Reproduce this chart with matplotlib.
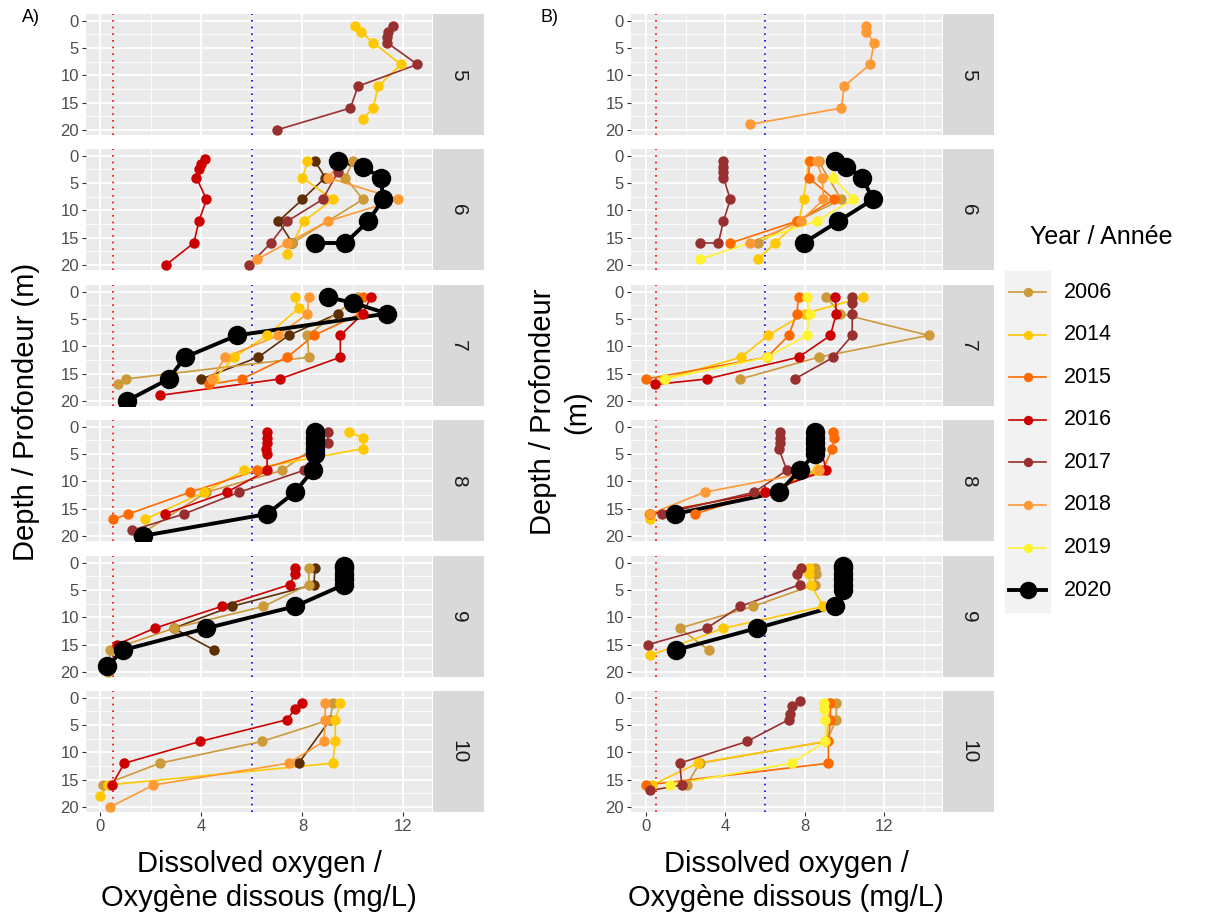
import matplotlib
matplotlib.use("Agg")
import matplotlib.pyplot as plt
from matplotlib.lines import Line2D
from matplotlib.patches import Rectangle

plt.rcParams['font.family'] = ['Liberation Sans', 'DejaVu Sans']

# dissolved oxygen profiles: {year: (depths in m, DO in mg/L)}
# panel A
A_MAY = {
    "2014": ([1, 2, 4, 8, 12, 16, 18], [10.1, 10.3, 10.8, 11.9, 11.0, 10.8, 10.4]),
    "2017": ([1, 2, 3, 4, 8, 12, 16, 20], [11.6, 11.4, 11.35, 11.35, 12.55, 10.2, 9.9, 7.0]),
}
A_JUN = {
    "2006": ([1, 4, 8, 16], [10.0, 9.7, 10.4, 7.6]),
    "2013": ([1, 4, 8, 12, 16], [8.5, 8.9, 8.0, 7.05, 7.6]),
    "2014": ([1, 4, 8, 12, 18], [8.2, 8.0, 9.2, 8.05, 7.4]),
    "2016": ([0.5, 1.5, 2.5, 4, 8, 12, 16, 20], [4.15, 4.0, 3.9, 3.8, 4.2, 3.9, 3.7, 2.6]),
    "2017": ([1, 3, 8, 12, 16, 20], [9.5, 9.4, 8.8, 7.4, 6.75, 5.9]),
    "2018": ([1, 4, 8, 12, 16, 19], [9.6, 9.0, 11.8, 9.0, 7.4, 6.2]),
    "2020": ([1, 2, 4, 8, 12, 16, 16], [9.4, 10.4, 11.1, 11.2, 10.6, 9.7, 8.5]),
}
A_JUL = {
    "2006": ([1, 8, 12, 16, 17], [10.2, 8.2, 8.25, 1.0, 0.7]),
    "2013": ([4, 8, 12, 16], [9.4, 7.45, 6.25, 4.0]),
    "2014": ([1, 3, 8, 12, 16], [7.7, 7.85, 6.6, 5.3, 4.5]),
    "2015": ([1, 4, 8, 12, 16, 17], [10.4, 10.3, 8.45, 7.4, 5.6, 4.3]),
    "2016": ([1, 4, 8, 12, 16, 19], [10.7, 10.4, 9.5, 9.5, 7.1, 2.35]),
    "2018": ([1, 4, 8, 12, 16], [8.25, 8.2, 7.05, 4.95, 4.4]),
    "2020": ([1, 2, 4, 8, 12, 16, 20], [9.0, 10.0, 11.35, 5.4, 3.35, 2.7, 1.05]),
}
A_AUG = {
    "2006": ([4, 8, 12, 20], [8.4, 7.2, 4.2, 1.5]),
    "2014": ([1, 2, 4, 8, 12, 17], [9.85, 10.4, 10.4, 5.7, 4.1, 1.75]),
    "2015": ([5, 8, 12, 16, 17], [8.3, 6.2, 3.55, 1.1, 0.5]),
    "2016": ([1, 2, 3, 4, 5, 8, 12, 16], [6.6, 6.6, 6.6, 6.55, 6.6, 6.6, 5.0, 2.55]),
    "2017": ([1, 3, 8, 12, 16, 19], [9.0, 9.0, 8.05, 5.5, 3.3, 1.25]),
    "2020": ([1, 2, 3, 4, 5, 8, 12, 16, 20], [8.5, 8.5, 8.5, 8.5, 8.5, 8.4, 7.7, 6.6, 1.7]),
}
A_SEP = {
    "2006": ([1, 4, 8, 12, 16, 20], [8.25, 8.25, 6.45, 2.9, 0.4, 0.3]),
    "2013": ([1, 4, 8, 12, 16], [8.5, 8.45, 5.2, 2.9, 4.5]),
    "2016": ([1, 2, 4, 8, 12, 15], [7.7, 7.7, 7.5, 4.8, 2.15, 0.65]),
    "2020": ([0.5, 1, 2, 3, 4, 8, 12, 16, 19], [9.65, 9.65, 9.65, 9.65, 9.65, 7.7, 4.2, 0.9, 0.25]),
}
A_OCT = {
    "2006": ([1, 4, 8, 12, 16], [9.2, 9.1, 6.4, 2.35, 0.1]),
    "2013": ([4, 12], [9.1, 7.85]),
    "2014": ([1, 4, 8, 12, 16, 18], [9.5, 9.3, 9.3, 9.2, 0.3, 0.0]),
    "2016": ([1, 2, 4, 8, 12, 16], [8.0, 7.7, 7.4, 3.95, 0.95, 0.45]),
    "2018": ([1, 4, 8, 12, 16, 20], [8.9, 8.9, 8.85, 7.45, 2.1, 0.4]),
}

# panel B
B_MAY = {
    "2018": ([1, 2, 4, 8, 12, 16, 19], [11.1, 11.1, 11.5, 11.3, 10.0, 9.85, 5.25]),
}
B_JUN = {
    "2006": ([1, 8, 12, 16], [8.7, 9.85, 7.6, 5.65]),
    "2014": ([1, 8, 12, 16, 19], [8.2, 7.95, 7.7, 6.5, 5.65]),
    "2015": ([1, 4, 8, 12, 16], [8.25, 8.2, 9.5, 7.6, 4.25]),
    "2017": ([1, 2, 3, 4, 8, 12, 16, 16], [3.9, 3.9, 3.9, 3.9, 4.25, 3.9, 3.65, 2.7]),
    "2018": ([1, 4, 8, 12, 16], [8.6, 8.9, 8.95, 7.8, 5.25]),
    "2019": ([1, 4, 8, 12, 19], [9.3, 9.45, 10.45, 8.6, 2.7]),
    "2020": ([1, 2, 4, 8, 12, 16], [9.55, 10.1, 10.9, 11.45, 9.7, 7.95]),
}
B_JUL = {
    "2006": ([1, 4, 8, 12, 16], [9.1, 9.8, 14.25, 8.7, 4.75]),
    "2014": ([1, 4, 8, 12, 16], [10.95, 8.0, 6.15, 4.8, 0.9]),
    "2015": ([1, 4, 8, 12, 16], [7.7, 7.6, 7.2, 6.1, 0.0]),
    "2016": ([1, 4, 8, 12, 16, 17], [9.55, 9.6, 9.3, 7.7, 3.05, 0.45]),
    "2017": ([1, 2, 4, 8, 12, 16], [10.4, 10.4, 10.4, 10.4, 9.45, 7.5]),
    "2019": ([1, 4, 8, 12, 16], [8.1, 8.25, 8.1, 6.1, 0.95]),
}
B_AUG = {
    "2014": ([1, 4, 8, 12, 16, 17], [8.4, 8.5, 8.6, 6.0, 0.15, 0.2]),
    "2015": ([1, 2, 4, 8, 12, 16], [9.45, 9.5, 9.4, 8.9, 6.0, 2.45]),
    "2016": ([1, 4, 8, 12, 16], [8.4, 8.8, 9.1, 6.0, 0.2]),
    "2017": ([1, 2, 3, 4, 8, 12, 16], [6.75, 6.75, 6.75, 6.7, 7.1, 5.45, 0.8]),
    "2018": ([1, 8, 12, 16], [8.5, 8.7, 2.95, 0.2]),
    "2020": ([1, 2, 3, 4, 5, 8, 12, 16], [8.5, 8.5, 8.5, 8.5, 8.5, 7.75, 6.7, 1.45]),
}
B_SEP = {
    "2006": ([1, 2, 4, 8, 12, 16], [8.5, 8.55, 8.5, 5.4, 1.7, 3.15]),
    "2014": ([1, 2, 4, 8, 12, 17], [8.2, 8.2, 8.3, 8.95, 3.9, 0.2]),
    "2017": ([1, 2, 4, 8, 12, 15], [7.8, 7.6, 7.75, 4.75, 3.05, 0.1]),
    "2020": ([0.5, 1, 2, 3, 4, 5, 8, 12, 16], [9.95, 9.95, 9.95, 9.95, 9.95, 9.95, 9.53, 5.58, 1.5]),
}
B_OCT = {
    "2006": ([1, 4, 8, 12, 16], [9.6, 9.6, 9.1, 2.7, 2.05]),
    "2014": ([1, 4, 8, 12, 16], [9.3, 9.2, 9.1, 2.6, 0.3]),
    "2015": ([1, 4, 8, 12, 16], [9.3, 9.3, 9.2, 9.2, 0.0]),
    "2017": ([0.5, 1.5, 3, 4, 8, 12, 16, 17], [7.75, 7.35, 7.25, 7.2, 5.1, 1.7, 1.8, 0.2]),
    "2019": ([1, 2, 4, 8, 12, 16], [9.0, 9.0, 9.05, 9.05, 7.35, 1.2]),
}

MONTHS = ["5", "6", "7", "8", "9", "10"]
PANEL_A = [A_MAY, A_JUN, A_JUL, A_AUG, A_SEP, A_OCT]
PANEL_B = [B_MAY, B_JUN, B_JUL, B_AUG, B_SEP, B_OCT]

YEAR_ORDER = ["2013", "2006", "2014", "2015", "2016", "2017", "2018", "2019", "2020"]
LEGEND_YEARS = ["2006", "2014", "2015", "2016", "2017", "2018", "2019", "2020"]
COLORS = {
    "2013": "#5E2F05",
    "2006": "#CD9A3A",
    "2014": "#FFC800",
    "2015": "#FF6A00",
    "2016": "#CC0000",
    "2017": "#983030",
    "2018": "#FF9933",
    "2019": "#FFF22E",
    "2020": "#000000",
}

HYPOXIA = 0.5
LOW_DO = 6.0

W, H = 1206, 924
fig = plt.figure(figsize=(W / 100, H / 100), dpi=100)


def px_axes(x0, y0, x1, y1):
    return fig.add_axes([x0 / W, 1 - y1 / H, (x1 - x0) / W, (y1 - y0) / H])


def style(year):
    if year == "2020":
        return dict(lw=2.8, ms=14)
    return dict(lw=1.2, ms=7.5)


TOPS = [14, 149, 285, 420, 556, 691]
FACET_H = 121


def draw_panel(data_list, x0, x1, xlim, xminor):
    for i, (month, data) in enumerate(zip(MONTHS, data_list)):
        top = TOPS[i]
        ax = px_axes(x0, top, x1, top + FACET_H)
        ax.set_facecolor("#EBEBEB")
        for s in ax.spines.values():
            s.set_visible(False)
        ax.set_xlim(*xlim)
        ax.set_ylim(20.95, -1.25)
        ax.set_xticks([0, 4, 8, 12])
        ax.set_xticks(xminor, minor=True)
        ax.set_yticks([0, 5, 10, 15, 20])
        ax.set_yticks([2.5, 7.5, 12.5, 17.5], minor=True)
        ax.grid(which="major", color="white", lw=1.3)
        ax.grid(which="minor", color="white", lw=0.6)
        ax.set_axisbelow(True)
        ax.tick_params(which="minor", length=0)
        ax.tick_params(which="major", length=3, width=0.8, color="#333333",
                       labelcolor="#4D4D4D", labelsize=12, pad=2)
        if i < len(MONTHS) - 1:
            ax.tick_params(axis="x", which="major", length=0, labelbottom=False)

        ax.axvline(HYPOXIA, color="red", ls=(0, (1, 3)), lw=1.2, zorder=1.5)
        ax.axvline(LOW_DO, color="blue", ls=(0, (1, 3)), lw=1.2, zorder=1.5)

        years = [y for y in YEAR_ORDER if y in data]
        for y in years:
            d, v = data[y]
            ax.plot(v, d, "-", color=COLORS[y], lw=style(y)["lw"], zorder=2,
                    solid_capstyle="round")
        for y in years:
            d, v = data[y]
            ax.plot(v, d, "o", color=COLORS[y], ms=style(y)["ms"], mew=0, zorder=3)

        strip = px_axes(x1 + 1, top, x1 + 52, top + FACET_H)
        strip.set_facecolor("#D9D9D9")
        strip.set_xticks([])
        strip.set_yticks([])
        for s in strip.spines.values():
            s.set_visible(False)
        strip.text(0.5, 0.5, month, rotation=270, ha="center", va="center",
                   fontsize=15, color="#1A1A1A", transform=strip.transAxes)


draw_panel(PANEL_A, 86, 432, (-0.57, 13.13), [2, 6, 10])
draw_panel(PANEL_B, 631, 942, (-0.76, 14.93), [2, 6, 10, 14])


def ftext(x, y, s, **kw):
    fig.text(x / W, 1 - y / H, s, **kw)


ftext(22, 18, "A)", fontsize=13, ha="left", va="center")
ftext(540, 18, "B)", fontsize=13, ha="left", va="center")

title_kw = dict(fontsize=21, color="black", ha="center", va="center", linespacing=1.3)
ftext(26, 412, "Depth / Profondeur (m)", rotation=90, **title_kw)
ftext(560, 412, "Depth / Profondeur\n(m)", rotation=90, **title_kw)
ftext(259, 881, "Dissolved oxygen /\nOxygène dissous (mg/L)", **title_kw)
ftext(786, 881, "Dissolved oxygen /\nOxygène dissous (mg/L)", **title_kw)

# legend
ftext(1030, 237, "Year / Année", fontsize=18, ha="left", va="center")
key_x0, key_x1 = 1005, 1050
row0, step = 292, 42.6
fig.patches.append(Rectangle((key_x0 / W, 1 - (row0 + 7.5 * step) / H),
                             (key_x1 - key_x0) / W, 8 * step / H,
                             transform=fig.transFigure, color="#F2F2F2", zorder=0))
for k, y in enumerate(LEGEND_YEARS):
    yy = 1 - (row0 + k * step) / H
    st = style(y)
    fig.lines.append(Line2D([(key_x0 + 4) / W, (key_x1 - 4) / W], [yy, yy],
                            transform=fig.transFigure, color=COLORS[y], lw=st["lw"]))
    fig.lines.append(Line2D([(key_x0 + key_x1) / 2 / W], [yy], transform=fig.transFigure,
                            marker="o", ms=st["ms"] * 0.9, mew=0, color=COLORS[y], ls="none"))
    ftext(1064, row0 + k * step, y, fontsize=15.5, ha="left", va="center")

fig.savefig("out.png", dpi=100)
